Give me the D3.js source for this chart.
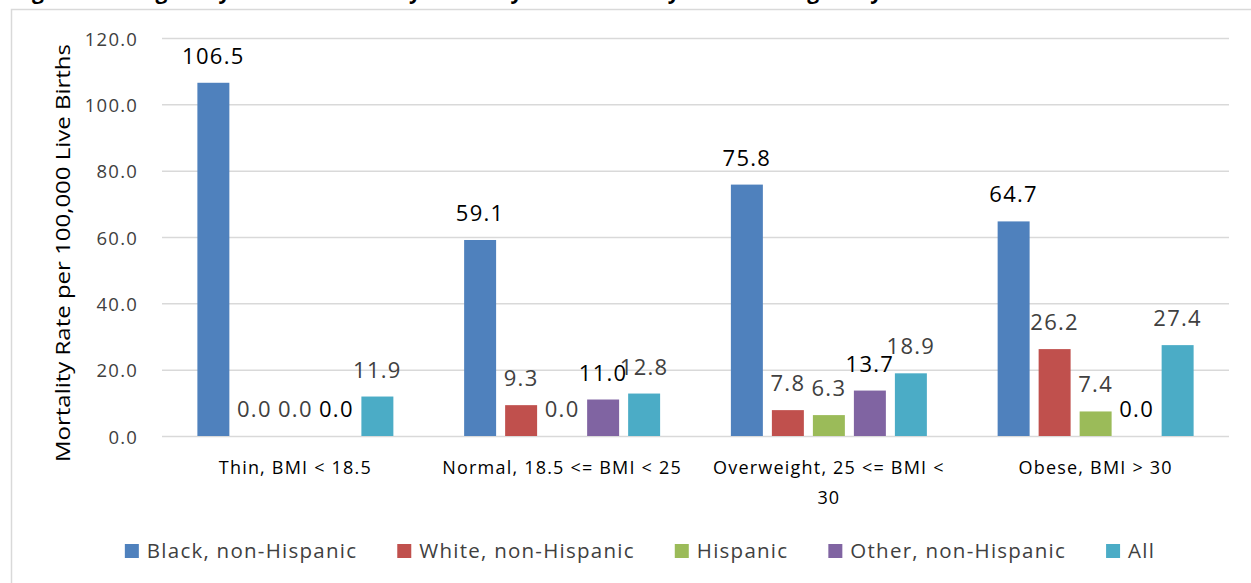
<!DOCTYPE html>
<html>
<head>
<meta charset="utf-8">
<script src="https://cdn.jsdelivr.net/npm/d3@7"></script>
<style>
  html, body { margin: 0; padding: 0; background: #fff; }
  svg { display: block; font-family: "Open Sans", "Noto Sans", sans-serif; }
</style>
</head>
<body>
<svg id="chart" width="1251" height="583"></svg>
<script>
// BMI categories along the x axis
const categories = [
  "Thin, BMI < 18.5",
  "Normal, 18.5 <= BMI < 25",
  "Overweight, 25 <= BMI < 30",
  "Obese, BMI > 30"
];

// Mortality rate per 100,000 live births, one array per race/ethnicity group
const blackNonHispanic = [106.5, 59.1, 75.8, 64.7];
const whiteNonHispanic = [0.0, 9.3, 7.8, 26.2];
const hispanic = [0.0, 0.0, 6.3, 7.4];
const otherNonHispanic = [0.0, 11.0, 13.7, 0.0];
const allGroups = [11.9, 12.8, 18.9, 27.4];

const seriesNames = ["Black, non-Hispanic", "White, non-Hispanic", "Hispanic", "Other, non-Hispanic", "All"];
const yTicks = [0, 20, 40, 60, 80, 100, 120];

const titleText = "Figure 16: Pregnancy-Related Mortality Ratios by Race/Ethnicity and Pre-Pregnancy BMI";
const yAxisTitle = "Mortality Rate per 100,000 Live Births";

const series = [
  { name: seriesNames[0], values: blackNonHispanic, color: "#4F81BD", labelColor: "#000000" },
  { name: seriesNames[1], values: whiteNonHispanic, color: "#C0504D", labelColor: "#404040" },
  { name: seriesNames[2], values: hispanic, color: "#9BBB59", labelColor: "#404040" },
  { name: seriesNames[3], values: otherNonHispanic, color: "#8064A2", labelColor: "#000000" },
  { name: seriesNames[4], values: allGroups, color: "#4BACC6", labelColor: "#404040" }
];

const svg = d3.select("#chart");

// chart frame
svg.append("rect")
  .attr("x", 11.5).attr("y", 9.5)
  .attr("width", 1300).attr("height", 600)
  .attr("fill", "#fff")
  .attr("stroke", "#d9d9d9").attr("stroke-width", 1.5);

// heading sits above the frame, only its lowest strokes fall on the page
svg.append("text")
  .attr("x", 14).attr("y", -1.5)
  .attr("font-size", 21).attr("font-weight", "bold")
  .attr("fill", "#000")
  .text(titleText);

const plot = { left: 162, right: 1229, top: 38, bottom: 436 };

const y = d3.scaleLinear().domain([0, 120]).range([plot.bottom, plot.top]);
const x0 = d3.scaleBand().domain(categories).range([plot.left, plot.right]).padding(0);
const x1 = d3.scaleBand().domain(seriesNames).range([0, x0.bandwidth()])
  .paddingInner(0.22).paddingOuter(0.863);

// gridlines via axis
const yAxis = d3.axisLeft(y).tickValues(yTicks)
  .tickSize(-(plot.right - plot.left))
  .tickFormat(d => d3.format(".1f")(d));

const gy = svg.append("g")
  .attr("transform", `translate(${plot.left},0)`)
  .call(yAxis);
gy.select(".domain").remove();
gy.selectAll(".tick line").attr("stroke", "#d9d9d9").attr("stroke-width", 1.5);
gy.selectAll(".tick text")
  .attr("x", -24).attr("dy", "0.38em")
  .attr("font-family", "'Open Sans', sans-serif")
  .attr("font-size", 18.5)
  .attr("letter-spacing", 1.2)
  .attr("fill", "#404040");

// y axis title
svg.append("text")
  .attr("transform", `translate(70,253) rotate(-90)`)
  .attr("text-anchor", "middle")
  .attr("font-size", 20.5)
  .attr("fill", "#000")
  .attr("textLength", 418)
  .attr("lengthAdjust", "spacingAndGlyphs")
  .text(yAxisTitle);

// bars
const groups = svg.append("g").selectAll("g.series")
  .data(series).join("g").attr("class", "series");

groups.selectAll("rect")
  .data(s => s.values.map((v, i) => ({ v, cat: categories[i], s })))
  .join("rect")
  .attr("x", d => x0(d.cat) + x1(d.s.name))
  .attr("width", x1.bandwidth())
  .attr("y", d => y(d.v))
  .attr("height", d => plot.bottom - y(d.v))
  .attr("fill", d => d.s.color);

// value labels; the gray ones first so black labels sit on top
const labelOrder = [1, 2, 4, 0, 3].map(i => series[i]);
const labels = svg.append("g");
labelOrder.forEach(s => {
  labels.selectAll(null)
    .data(s.values.map((v, i) => ({ v, cat: categories[i], s })))
    .join("text")
    .attr("x", d => x0(d.cat) + x1(d.s.name) + x1.bandwidth() / 2)
    .attr("y", d => y(d.v) - 19)
    .attr("text-anchor", "middle")
    .attr("font-size", 22)
    .attr("letter-spacing", 1.3)
    .attr("fill", d => d.s.labelColor)
    .text(d => d3.format(".1f")(d.v));
});

// category labels, wrapped to the band width
const catG = svg.append("g");
categories.forEach(c => {
  const cx = x0(c) + x0.bandwidth() / 2;
  const t = catG.append("text")
    .attr("text-anchor", "middle")
    .attr("font-size", 18)
    .attr("letter-spacing", 1.2)
    .attr("fill", "#000");
  const words = c.split(" ");
  let line = [];
  let lineNo = 0;
  let tspan = t.append("tspan").attr("x", cx).attr("y", 474);
  words.forEach(w => {
    line.push(w);
    tspan.text(line.join(" "));
    if (tspan.node().getComputedTextLength() > 258 && line.length > 1) {
      line.pop();
      tspan.text(line.join(" "));
      line = [w];
      lineNo++;
      tspan = t.append("tspan").attr("x", cx).attr("y", 474 + lineNo * 30).text(w);
    }
  });
});

// legend
const legend = svg.append("g");
const items = legend.selectAll("g").data(series).join("g");
items.append("rect")
  .attr("width", 14).attr("height", 14)
  .attr("y", 544)
  .attr("fill", d => d.color);
items.append("text")
  .attr("x", 22).attr("y", 558)
  .attr("font-size", 20.5)
  .attr("letter-spacing", 1.25)
  .attr("fill", "#404040")
  .text(d => d.name);

let pos = 0;
const offsets = [];
items.each(function () {
  offsets.push(pos);
  const w = d3.select(this).select("text").node().getComputedTextLength();
  pos += 22 + w + 40;
});
const totalW = pos - 40;
const startX = 640 - totalW / 2;
items.attr("transform", (d, i) => `translate(${startX + offsets[i]},0)`);
</script>
</body>
</html>
